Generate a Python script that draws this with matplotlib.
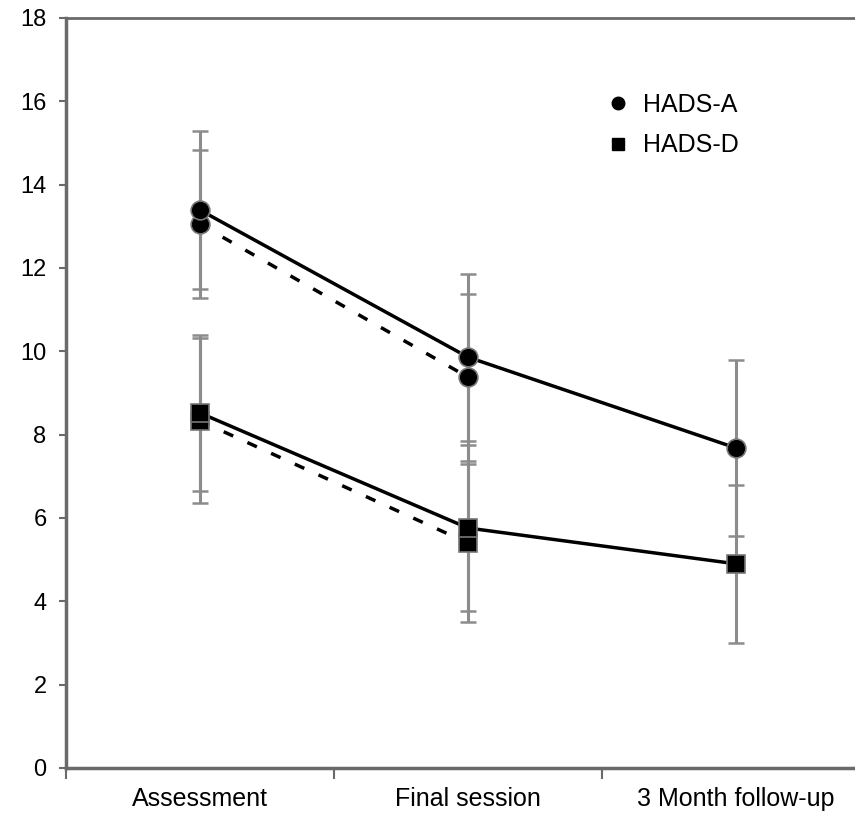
import numpy as np
import matplotlib
matplotlib.use('Agg')
import matplotlib.pyplot as plt
from matplotlib.lines import Line2D

plt.rcParams['font.family'] = ['Liberation Sans', 'DejaVu Sans']

# data
categories = ['Assessment', 'Final session', '3 Month follow-up']

hads_a_all = [13.39, 9.86, 7.68]
hads_a_all_sd = [1.90, 2.00, 2.11]
hads_a_sub = [13.05, 9.38]
hads_a_sub_sd = [1.78, 2.00]

hads_d_all = [8.52, 5.76, 4.90]
hads_d_all_sd = [1.87, 2.00, 1.90]
hads_d_sub = [8.33, 5.40]
hads_d_sub_sd = [1.98, 1.90]

legend_labels = ['HADS-A', 'HADS-D']
y_ticks = list(range(0, 19, 2))

fig = plt.figure(figsize=(8.55, 8.15), dpi=100)
# axes run past the right edge, like the original crop
ax = fig.add_axes([66 / 855, 47 / 815, 804 / 855, 750 / 815])

x_all = np.arange(len(categories))
x_sub = np.arange(2)

spine_col = '#6a6a6a'
bar_col = '#8c8c8c'


def draw_series(x, y, sd, ls, marker, z):
    _, caps, bars = ax.errorbar(x, y, yerr=sd, fmt='none', ecolor=bar_col,
                                elinewidth=2.2, capsize=6, capthick=1.8, zorder=1)
    for c in caps:
        c.set_color('#2a2a2a')
    line, = ax.plot(x, y, color='black', lw=2.5, linestyle=ls, zorder=z)
    if ls == '--':
        line.set_dashes((3, 4.5))
    ax.plot(x, y, linestyle='none', marker=marker, ms=13.5 if marker == 'o' else 13,
            mfc='black', mec='#777777', mew=1.2, zorder=z + 1)


draw_series(x_sub, hads_a_sub, hads_a_sub_sd, '--', 'o', 2)
draw_series(x_sub, hads_d_sub, hads_d_sub_sd, '--', 's', 2)
draw_series(x_all, hads_a_all, hads_a_all_sd, '-', 'o', 4)
draw_series(x_all, hads_d_all, hads_d_all_sd, '-', 's', 4)

ax.set_xlim(-0.5, 2.5)
ax.set_ylim(0, 18)
ax.set_yticks(y_ticks)
ax.tick_params(axis='y', direction='out', length=5, width=1.5, color=spine_col,
               labelsize=17, pad=9)

# category separators as major ticks, labels on minor ticks
ax.set_xticks([-0.5, 0.5, 1.5, 2.5])
ax.set_xticklabels([])
ax.tick_params(axis='x', which='major', direction='out', length=8, width=1.5,
               color=spine_col)
ax.set_xticks(x_all, minor=True)
ax.set_xticklabels(categories, minor=True)
ax.tick_params(axis='x', which='minor', length=0, labelsize=18, pad=14)

for side in ['left', 'bottom']:
    ax.spines[side].set_color(spine_col)
    ax.spines[side].set_linewidth(2.5)
ax.spines['top'].set_color(spine_col)
ax.spines['top'].set_linewidth(2)
ax.spines['right'].set_visible(False)

handles = [
    Line2D([], [], linestyle='none', marker='o', ms=9, color='black'),
    Line2D([], [], linestyle='none', marker='s', ms=8.5, color='black'),
]
ax.legend(handles, legend_labels, loc='upper left', bbox_to_anchor=(0.64, 0.93),
          frameon=False, fontsize=18, handletextpad=0.4, labelspacing=0.65,
          handlelength=1.2)

fig.savefig('out.png', dpi=100)
